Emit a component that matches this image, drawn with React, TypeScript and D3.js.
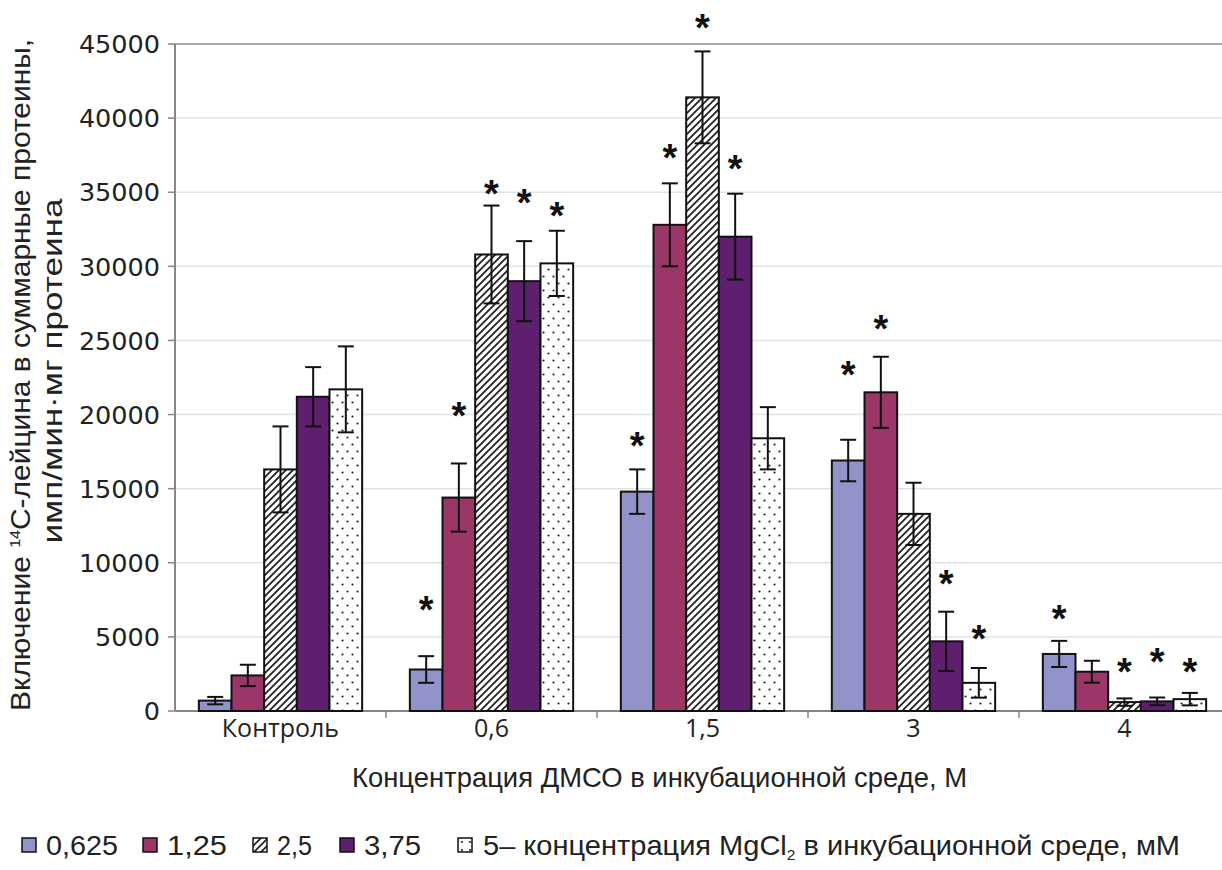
import React from 'react';
import * as d3 from 'd3';

const categories = ['Контроль', '0,6', '1,5', '3', '4'];
const seriesNames = ['0,625', '1,25', '2,5', '3,75', '5'];

const s0625 = [700, 2800, 14800, 16900, 3850];
const s125 = [2400, 14400, 32800, 21500, 2650];
const s25 = [16300, 30800, 41400, 13300, 600];
const s375 = [21200, 29000, 32000, 4700, 650];
const s5 = [21700, 30200, 18400, 1900, 800];

const e0625 = [250, 900, 1500, 1400, 880];
const e125 = [720, 2300, 2800, 2400, 740];
const e25 = [2900, 3300, 3100, 2100, 250];
const e375 = [2000, 2700, 2900, 2000, 260];
const e5 = [2900, 2200, 2100, 1000, 420];

// значения (по оси Y), на уровне которых стоят звёздочки достоверности
const st0625 = [null, 7200, 18300, 23100, 6600];
const st125 = [null, 20300, 37700, 26200, null];
const st25 = [null, 35300, 46500, null, 3050];
const st375 = [null, 34700, 37000, 9000, 3700];
const st5 = [null, 33800, null, 5250, 3050];

const yTicks = [0, 5000, 10000, 15000, 20000, 25000, 30000, 35000, 40000, 45000];

const values = [s0625, s125, s25, s375, s5];
const errors = [e0625, e125, e25, e375, e5];
const stars = [st0625, st125, st25, st375, st5];

const fills = ['#9294c9', '#9b3669', 'url(#hatch)', '#5e1f6f', 'url(#dots)'];

const W = 1222;
const H = 870;
const left = 175;
const right = 1230;
const top = 44;
const bottom = 711;

const FONT = 'Liberation Sans, Arial';

export default function App() {
  const x0 = d3.scaleBand<string>().domain(categories).range([left, right]).padding(0);
  const bw = x0.bandwidth();
  const x1 = d3.scaleBand<string>().domain(seriesNames).range([bw * 0.113, bw * 0.887]).padding(0);
  const y = d3.scaleLinear().domain([0, 45000]).range([bottom, top]);

  const legendX = [22, 143, 253, 340, 458];
  const legendLabels = ['0,625', '1,25', '2,5', '3,75'];
  const legendLens = [72, 60, 35, 57];

  return (
    <svg width={W} height={H} style={{ position: 'absolute', left: 0, top: 0, background: '#fff' }}>
      <defs>
        <pattern id="hatch" patternUnits="userSpaceOnUse" width={7} height={7}>
          <rect width={7} height={7} fill="#fff" />
          <path d="M-1,1 l2,-2 M0,7 l7,-7 M6,8 l2,-2" stroke="#222" strokeWidth={1.8} />
        </pattern>
        <pattern id="dots" patternUnits="userSpaceOnUse" width={10} height={14}>
          <rect width={10} height={14} fill="#fff" />
          <circle cx={2.5} cy={3.5} r={1.1} fill="#222" />
          <circle cx={7.5} cy={10.5} r={1.1} fill="#222" />
        </pattern>
        <pattern id="dotsL" patternUnits="userSpaceOnUse" width={8} height={8} x={458} y={838}>
          <rect width={8} height={8} fill="#fff" />
          <circle cx={4} cy={4} r={1.1} fill="#222" />
        </pattern>
      </defs>
      <rect width={W} height={H} fill="#fff" />

      {/* gridlines */}
      {yTicks.map((t) => (
        <line key={'g' + t} x1={left} x2={W} y1={y(t)} y2={y(t)}
          stroke={t === 45000 ? '#a9a9a9' : '#e2e2e2'} strokeWidth={t === 45000 ? 2 : 1.5} />
      ))}

      {/* y axis */}
      <line x1={left} x2={left} y1={top} y2={bottom} stroke="#8c8585" strokeWidth={2} />
      {yTicks.map((t) => (
        <g key={'t' + t}>
          <line x1={left - 7} x2={left} y1={y(t)} y2={y(t)} stroke="#8c8585" strokeWidth={1.5} />
          <text x={160} y={y(t)} dy="0.36em" textAnchor="end" fontFamily="DejaVu Sans, Liberation Sans" fontSize={25.5} fill="#222">
            {t}
          </text>
        </g>
      ))}

      {/* x axis */}
      <line x1={left} x2={W} y1={bottom} y2={bottom} stroke="#8c8585" strokeWidth={2} />
      {categories.slice(1).map((c) => (
        <line key={'xt' + c} x1={x0(c)} x2={x0(c)} y1={bottom} y2={bottom + 7} stroke="#8c8585" strokeWidth={1.5} />
      ))}
      {categories.map((c) => (
        <text key={'xl' + c} x={(x0(c) as number) + bw / 2} y={737} textAnchor="middle"
          fontFamily="Open Sans, Liberation Sans" fontSize={25} fill="#222">
          {c}
        </text>
      ))}

      {/* bars */}
      {categories.map((c, ci) => (
        <g key={'grp' + c} transform={`translate(${x0(c)},0)`}>
          {seriesNames.map((s, si) => {
            const v = values[si][ci];
            const e = errors[si][ci];
            const bx = x1(s) as number;
            const w = x1.bandwidth();
            const cx = bx + w / 2;
            const st = stars[si][ci];
            return (
              <g key={'b' + s}>
                <rect x={bx} y={y(v)} width={w} height={bottom - y(v)} fill={fills[si]} stroke="#111" strokeWidth={2} />
                <line x1={cx} x2={cx} y1={y(v + e)} y2={y(Math.max(0, v - e))} stroke="#111" strokeWidth={2} />
                <line x1={cx - 8} x2={cx + 8} y1={y(v + e)} y2={y(v + e)} stroke="#111" strokeWidth={2} />
                <line x1={cx - 8} x2={cx + 8} y1={y(Math.max(0, v - e))} y2={y(Math.max(0, v - e))} stroke="#111" strokeWidth={2} />
                {st !== null && (
                  <text x={cx} y={y(st) + 19} textAnchor="middle" fontFamily={FONT} fontWeight="bold" fontSize={38} fill="#111">
                    *
                  </text>
                )}
              </g>
            );
          })}
        </g>
      ))}

      {/* y axis title */}
      <g transform="translate(30,375) rotate(-90)">
        <text x={-336} y={0} textLength={672} lengthAdjust="spacingAndGlyphs" fontFamily={FONT} fontSize={28} fill="#222">
          Включение <tspan fontSize={15} dy={-10}>14</tspan><tspan dy={10}>C-лейцина в суммарные протеины,</tspan>
        </text>
        <text x={4} y={32} textAnchor="middle" textLength={345} lengthAdjust="spacingAndGlyphs" fontFamily={FONT} fontSize={28} fill="#222">
          имп/мин·мг протеина
        </text>
      </g>

      {/* x axis title */}
      <text x={352} y={787} textLength={615} lengthAdjust="spacingAndGlyphs" fontFamily={FONT} fontSize={28} fill="#222">
        Концентрация ДМСО в инкубационной среде, М
      </text>

      {/* legend */}
      {seriesNames.map((s, i) => (
        <rect key={'lr' + s} x={legendX[i]} y={838} width={14} height={14}
          fill={i === 4 ? 'url(#dotsL)' : fills[i]} stroke="#111" strokeWidth={1.5} />
      ))}
      {legendLabels.map((l, i) => (
        <text key={'lt' + l} x={legendX[i] + 24} y={855} textLength={legendLens[i]} lengthAdjust="spacingAndGlyphs"
          fontFamily={FONT} fontSize={28} fill="#222">
          {l}
        </text>
      ))}
      <text x={483} y={855} textLength={697} lengthAdjust="spacingAndGlyphs" fontFamily={FONT} fontSize={28} fill="#222">
        5– концентрация MgCl<tspan fontSize={15} dy={5}>2</tspan><tspan dy={-5}> в инкубационной среде, мМ</tspan>
      </text>
    </svg>
  );
}
